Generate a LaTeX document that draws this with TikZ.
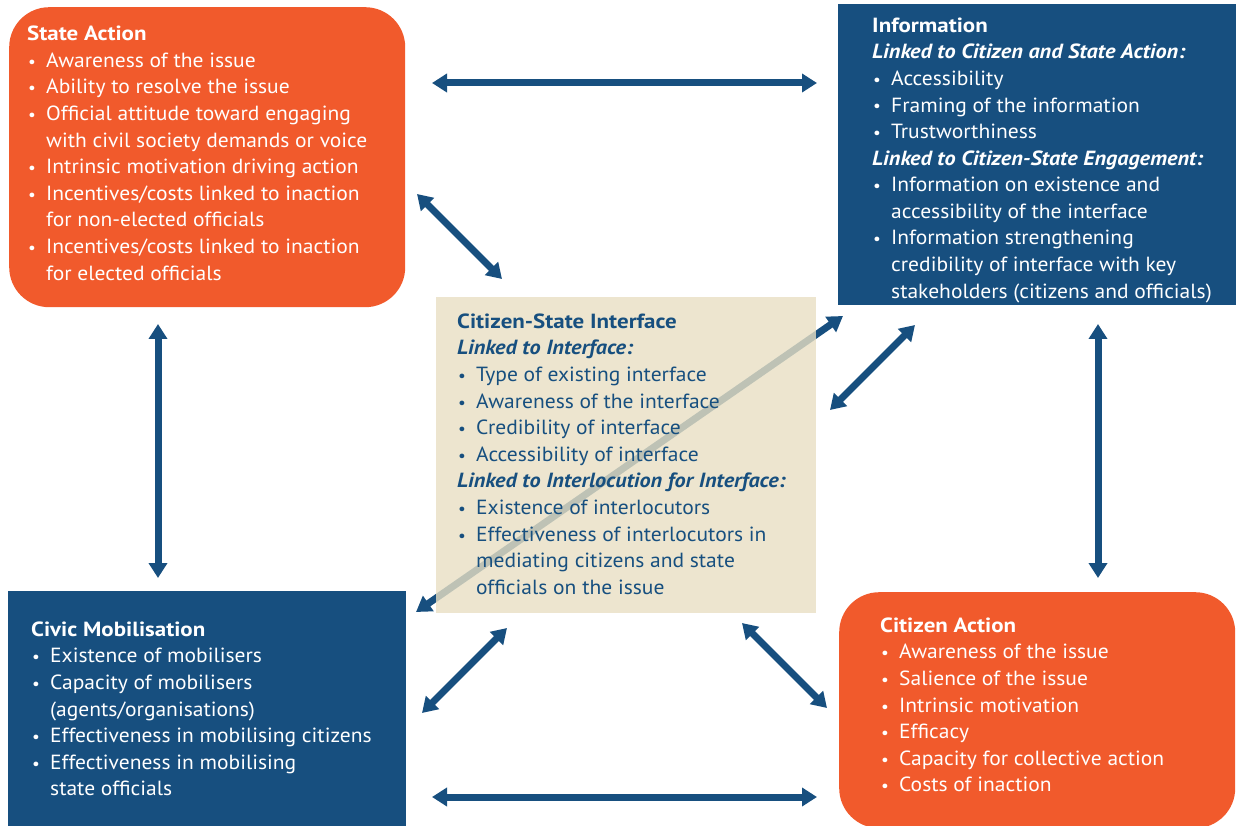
\documentclass[tikz,border=0pt]{standalone}
\usepackage{fontspec}
\setmainfont{PT Sans}[FakeStretch=1.05,BoldFeatures={FakeStretch=1.12},BoldItalicFeatures={FakeStretch=1.085}]
\usetikzlibrary{arrows.meta}
\definecolor{orng}{HTML}{F15A2C}
\definecolor{dblue}{HTML}{174F7F}
\definecolor{beige}{HTML}{E8DFC3}
\newcommand{\bl}[1]{\hspace*{1pt}\makebox[18pt][l]{\scalebox{0.8}{\textbullet}}#1}
\newcommand{\cl}[1]{\hspace*{19pt}#1}
\newcommand{\fst}{\rule{0pt}{20pt}}
\begin{document}
\begin{tikzpicture}[x=1pt,y=-1pt,
  obox/.style={fill=orng,draw=none,rounded corners=40pt,anchor=north west,inner sep=0pt},
  bbox/.style={fill=dblue,draw=none,anchor=north west,inner sep=0pt},
  cbox/.style={fill=beige,fill opacity=0.8,draw=none,anchor=north west,inner sep=0pt},
  txt/.style={anchor=north west,inner sep=0pt,align=left,font=\fontsize{20.5}{26.6}\selectfont},
  wtxt/.style={txt,text=white},
  btxt/.style={txt,text=dblue},
  arr/.style={draw=dblue,line width=7pt,{Triangle[length=15pt,width=18pt]}-{Triangle[length=15pt,width=18pt]}}
]
\useasboundingbox (0,0) rectangle (1240,826);
% boxes
\node[obox,minimum width=396pt,minimum height=300pt] (sa) at (9,7) {};
\node[bbox,minimum width=398pt,minimum height=301pt] (inf) at (838,4) {};
\node[obox,minimum width=396pt,minimum height=236pt] (ca) at (839,592) {};
\node[bbox,minimum width=398pt,minimum height=240pt] (cm) at (8,591) {};
% arrow endpoints
\coordinate (d1) at (416,612);
\coordinate (d2) at (843,316);
\draw[arr] (d1) -- (d2);
\node[cbox,minimum width=380pt,minimum height=316pt] (csi) at (436,297) {};
% other arrows
\coordinate (t1) at (432,83); \coordinate (t2) at (817,83);
\coordinate (b1) at (432,797); \coordinate (b2) at (817,797);
\coordinate (l1) at (158,324); \coordinate (l2) at (158,578);
\coordinate (r1) at (1098,324); \coordinate (r2) at (1098,578);
\coordinate (s1) at (417,194); \coordinate (s2) at (502,279);
\coordinate (i1) at (915,325); \coordinate (i2) at (830,410);
\coordinate (m1) at (507,628); \coordinate (m2) at (422,713);
\coordinate (c1) at (742,623); \coordinate (c2) at (827,708);
\draw[arr] (t1) -- (t2);
\draw[arr] (b1) -- (b2);
\draw[arr] (l1) -- (l2);
\draw[arr] (r1) -- (r2);
\draw[arr] (s1) -- (s2);
\draw[arr] (i1) -- (i2);
\draw[arr] (m1) -- (m2);
\draw[arr] (c1) -- (c2);
% texts
\node[wtxt] (satxt) at (27,20.5) {\fst\textbf{State Action}\\
\bl{Awareness of the issue}\\
\bl{Ability to resolve the issue}\\
\bl{Official attitude toward engaging}\\
\cl{with civil society demands or voice}\\
\bl{Intrinsic motivation driving action}\\
\bl{Incentives/costs linked to inaction}\\
\cl{for non-elected officials}\\
\bl{Incentives/costs linked to inaction}\\
\cl{for elected officials}};
\node[wtxt] (inftxt) at (872,12) {\fst\textbf{Information}\\
\textbf{\textit{Linked to Citizen and State Action:}}\\
\bl{Accessibility}\\
\bl{Framing of the information}\\
\bl{Trustworthiness}\\
\textbf{\textit{Linked to Citizen-State Engagement:}}\\
\bl{Information on existence and}\\
\cl{accessibility of the interface}\\
\bl{Information strengthening}\\
\cl{credibility of interface with key}\\
\cl{stakeholders (citizens and officials)}};
\node[btxt] (csitxt) at (457,308) {\fst\textbf{Citizen-State Interface}\\
\textbf{\textit{Linked to Interface:}}\\
\bl{Type of existing interface}\\
\bl{Awareness of the interface}\\
\bl{Credibility of interface}\\
\bl{Accessibility of interface}\\
\textbf{\textit{Linked to Interlocution for Interface:}}\\
\bl{Existence of interlocutors}\\
\bl{Effectiveness of interlocutors in}\\
\cl{mediating citizens and state}\\
\cl{officials on the issue}};
\node[wtxt] (cmtxt) at (31,616) {\fst\textbf{Civic Mobilisation}\\
\bl{Existence of mobilisers}\\
\bl{Capacity of mobilisers}\\
\cl{(agents/organisations)}\\
\bl{Effectiveness in mobilising citizens}\\
\bl{Effectiveness in mobilising}\\
\cl{state officials}};
\node[wtxt] (catxt) at (880,612) {\fst\textbf{Citizen Action}\\
\bl{Awareness of the issue}\\
\bl{Salience of the issue}\\
\bl{Intrinsic motivation}\\
\bl{Efficacy}\\
\bl{Capacity for collective action}\\
\bl{Costs of inaction}};
\end{tikzpicture}
\end{document}
